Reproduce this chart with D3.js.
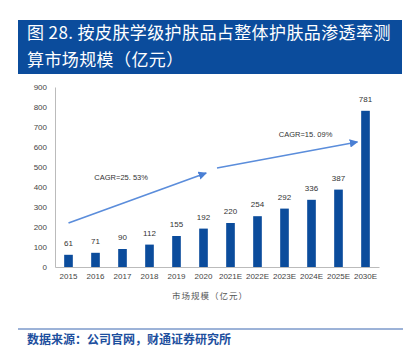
<!DOCTYPE html>
<html lang="zh">
<head>
<meta charset="UTF-8">
<script src="https://d3js.org/d3.v7.min.js"></script>
<style>
  body { margin: 0; background: #fff; }
  svg { display: block; }
</style>
</head>
<body>
<svg id="chart" width="410" height="352"></svg>
<script>
// data
const years = ["2015", "2016", "2017", "2018", "2019", "2020", "2021E", "2022E", "2023E", "2024E", "2025E", "2030E"];
const values = [61, 71, 90, 112, 155, 192, 220, 254, 292, 336, 387, 781];
const yTicks = [0, 100, 200, 300, 400, 500, 600, 700, 800, 900];
// CAGR arrows, positions as fractional category index and value
const arrows = [
  { i0: 0, v0: 220, i1: 5.1, v1: 470, label: "CAGR=25. 53%", li: 1.95, lv: 435 },
  { i0: 5.5, v0: 495, i1: 10.7, v1: 625, label: "CAGR=15. 09%", li: 8.78, lv: 650 }
];

const svg = d3.select("#chart");
const blue = "#0b4c9c";
const cjk = "'Noto Sans CJK SC', sans-serif";
const latin = "'Liberation Sans', Arial, sans-serif";

// title box
svg.append("rect").attr("x", 18).attr("y", 20).attr("width", 384).attr("height", 54).attr("fill", blue);
svg.append("text").attr("x", 27).attr("y", 39).attr("fill", "#fff")
  .attr("font-family", cjk).attr("font-size", 17).attr("letter-spacing", 0.4)
  .text("图 28. 按皮肤学级护肤品占整体护肤品渗透率测");
svg.append("text").attr("x", 27).attr("y", 66).attr("fill", "#fff")
  .attr("font-family", cjk).attr("font-size", 17).attr("letter-spacing", 0.4)
  .text("算市场规模（亿元）");

// scales
const x = d3.scaleBand().domain(years).range([55, 379]).paddingInner(0.68).paddingOuter(0.34);
const y = d3.scaleLinear().domain([0, 900]).range([267, 87]);
const cx = d => x(d) + x.bandwidth() / 2;
const xi = d3.scaleLinear().domain([0, years.length - 1]).range([cx(years[0]), cx(years[years.length - 1])]);

// axes
const gy = svg.append("g").attr("transform", "translate(55,0)")
  .call(d3.axisLeft(y).tickValues(yTicks).tickSize(0).tickPadding(8));
gy.select(".domain").attr("stroke", "#bbb");
gy.selectAll("text").attr("font-family", latin).attr("font-size", 8).attr("fill", "#444");

const gx = svg.append("g").attr("transform", "translate(0,267)")
  .call(d3.axisBottom(x).tickSize(0).tickPadding(6));
gx.select(".domain").attr("stroke", "#bbb");
gx.selectAll("text").attr("font-family", latin).attr("font-size", 8).attr("fill", "#444");

// bars
svg.append("g").selectAll("rect").data(values).join("rect")
  .attr("x", (d, i) => x(years[i]))
  .attr("y", d => y(d))
  .attr("width", x.bandwidth())
  .attr("height", d => y(0) - y(d))
  .attr("fill", blue);

// value labels
svg.append("g").selectAll("text").data(values).join("text")
  .attr("x", (d, i) => cx(years[i]))
  .attr("y", d => y(d) - 9)
  .attr("text-anchor", "middle")
  .attr("font-family", latin).attr("font-size", 8).attr("fill", "#333")
  .text(d => d);

// arrows
svg.append("defs").append("marker").attr("id", "arr").attr("viewBox", "0 0 10 10")
  .attr("refX", 9).attr("refY", 5).attr("markerWidth", 5).attr("markerHeight", 5)
  .attr("orient", "auto").attr("markerUnits", "strokeWidth")
  .append("path").attr("d", "M0,0L10,5L0,10z").attr("fill", "#4a7fd4");

svg.append("g").selectAll("line").data(arrows).join("line")
  .attr("x1", d => xi(d.i0)).attr("y1", d => y(d.v0))
  .attr("x2", d => xi(d.i1)).attr("y2", d => y(d.v1))
  .attr("stroke", "#5b8ddb").attr("stroke-width", 1.7)
  .attr("marker-end", "url(#arr)");

svg.append("g").selectAll("text").data(arrows).join("text")
  .attr("x", d => xi(d.li)).attr("y", d => y(d.lv))
  .attr("text-anchor", "middle")
  .attr("font-family", latin).attr("font-size", 7.5).attr("fill", "#333")
  .text(d => d.label);

// axis title
svg.append("text").attr("x", 210).attr("y", 299).attr("text-anchor", "middle")
  .attr("font-family", cjk).attr("font-size", 8.5).attr("fill", "#555").attr("letter-spacing", 1)
  .text("市场规模（亿元）");

// source
svg.append("line").attr("x1", 18).attr("x2", 403).attr("y1", 329).attr("y2", 329)
  .attr("stroke", "#3a67b0").attr("stroke-width", 1);
svg.append("text").attr("x", 27).attr("y", 344)
  .attr("font-family", cjk).attr("font-size", 12).attr("font-weight", "bold").attr("fill", "#1d4f9e")
  .text("数据来源：公司官网，财通证券研究所");
</script>
</body>
</html>
